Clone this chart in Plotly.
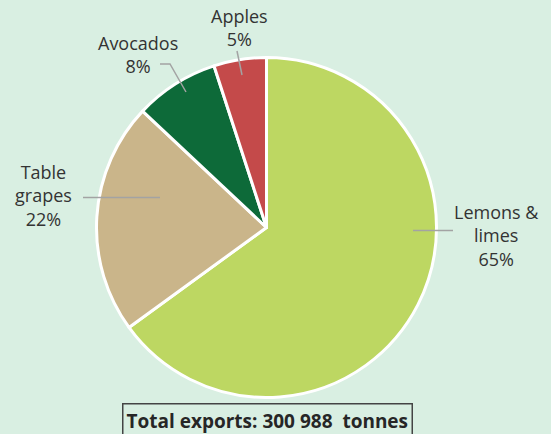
import plotly.graph_objects as go

categories = ["Lemons &<br>limes", "Table<br>grapes", "Avocados", "Apples"]
shares = [65, 22, 8, 5]
colors = ["#bdd762", "#cab58a", "#0d6a39", "#c44a4a"]
total_text = "Total exports: 300 988  tonnes"

W, H = 551, 434
BG = "#d9efe2"
FAMILY = "Open Sans, Mulish, sans-serif"

def px(x):
    return x / W

def py(y):
    return 1 - y / H

cx, cy, r = 266.5, 227.5, 170

fig = go.Figure(go.Pie(
    labels=categories, values=shares, sort=False, direction="clockwise",
    rotation=0, textinfo="none", hoverinfo="label+percent",
    marker=dict(colors=colors, line=dict(color="white", width=3)),
    domain=dict(x=[px(cx - r), px(cx + r)], y=[py(cy + r), py(cy - r)]),
    showlegend=False,
))

# label positions (pixel centers) and leader lines
label_pos = [(496, 235), (43, 195), (138, 54), (239, 27)]
leaders = [
    [(413, 230.5), (453, 230.5)],
    [(83, 197.5), (160, 197.5)],
    [(160, 64), (170, 64), (186, 92)],
    [(237, 51), (242, 75)],
]

font = dict(family=FAMILY, size=18, color="#333333")
for name, val, (lx, ly), pts in zip(categories, shares, label_pos, leaders):
    fig.add_annotation(x=px(lx), y=py(ly), xref="paper", yref="paper",
                       text=f"{name}<br>{val}%", showarrow=False, font=font,
                       align="center", xanchor="center", yanchor="middle")
    path = "M " + " L ".join(f"{px(a)},{py(b)}" for a, b in pts)
    fig.add_shape(type="path", path=path, xref="paper", yref="paper",
                  line=dict(color="#a3a3a3", width=1.5))

fig.add_annotation(x=px(267), y=py(403), xref="paper", yref="paper",
                   text=f"<b>{total_text}</b>", showarrow=False,
                   font=dict(family=FAMILY, size=19, color="#262626"),
                   xanchor="center", yanchor="top", bordercolor="#444444",
                   borderwidth=1.5, borderpad=3, bgcolor=BG)

fig.update_layout(width=W, height=H, margin=dict(l=0, r=0, t=0, b=0),
                  paper_bgcolor=BG, plot_bgcolor=BG)

fig.write_html("out.html")
